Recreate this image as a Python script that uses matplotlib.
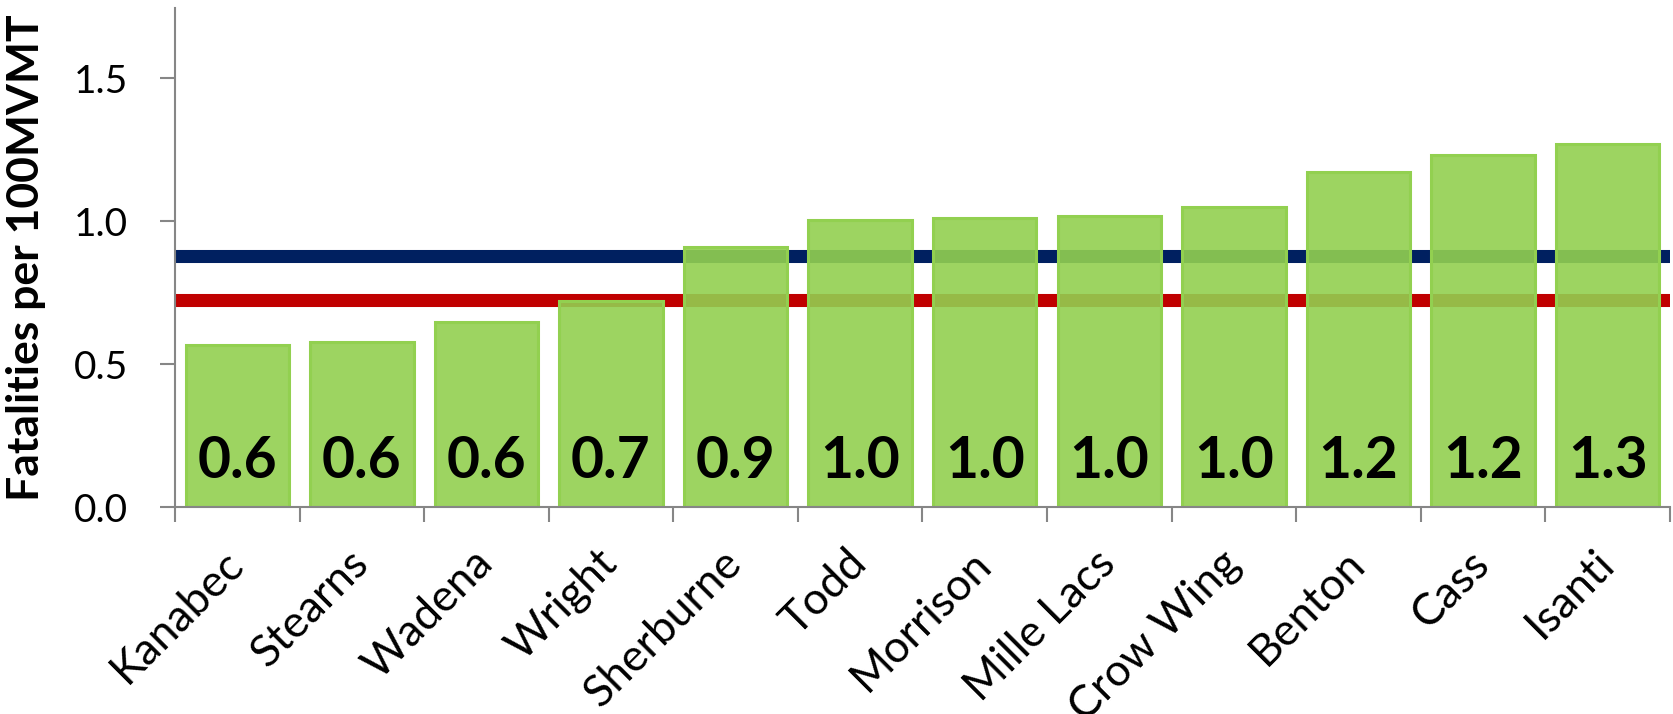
import numpy as np
import matplotlib.pyplot as plt
from matplotlib.ticker import MultipleLocator

plt.rcParams['font.family'] = ['Lato', 'DejaVu Sans']

# county fatality rates
counties = ['Kanabec', 'Stearns', 'Wadena', 'Wright', 'Sherburne', 'Todd',
            'Morrison', 'Mille Lacs', 'Crow Wing', 'Benton', 'Cass', 'Isanti']
rates = [0.566, 0.578, 0.648, 0.721, 0.909, 1.004,
         1.010, 1.016, 1.048, 1.172, 1.232, 1.268]

# reference lines
district_rate = 0.879
state_rate = 0.724

fig = plt.figure(figsize=(16.73, 7.14), dpi=100)
ax = fig.add_axes([0.1046, 0.2899, 0.8935, 0.6989])

x = np.arange(len(counties))
ax.axhline(district_rate, color='#002060', lw=9.4, zorder=1)
ax.axhline(state_rate, color='#C00000', lw=9.4, zorder=1)
ax.bar(x, rates, width=0.83, color=(146/255, 208/255, 80/255, 0.9),
       edgecolor='#92D050', linewidth=2.2, zorder=2)

for xi, v in zip(x, rates):
    ax.text(xi, 0.10, '{:.1f}'.format(v), ha='center', va='baseline',
            fontsize=41, fontweight='bold', color='black', zorder=3)

ax.set_xlim(-0.5, len(counties) - 0.5)
ax.set_ylim(0, 1.745)
ax.yaxis.set_major_locator(MultipleLocator(0.5))
ax.yaxis.set_major_formatter(plt.FuncFormatter(lambda v, p: '{:.1f}'.format(v)))

ax.set_xticks(x)
ax.set_xticklabels(counties, rotation=45, ha='right', va='center', rotation_mode='anchor')
ax.set_xticks(np.arange(-0.5, len(counties)), minor=True)
ax.tick_params(axis='x', which='major', length=0, pad=36, labelsize=32)
ax.tick_params(axis='x', which='minor', length=11, width=1.5, color='#868686', direction='out')
ax.tick_params(axis='y', length=11, width=1.5, color='#868686', pad=23, labelsize=28)

for s in ['top', 'right']:
    ax.spines[s].set_visible(False)
for s in ['left', 'bottom']:
    ax.spines[s].set_color('#868686')
    ax.spines[s].set_linewidth(1.5)

ax.set_ylabel('Fatalities per 100MVMT', fontsize=32, fontweight='bold')
ax.yaxis.set_label_coords(-0.086, 0.5)

fig.savefig('out.png', dpi=100)
